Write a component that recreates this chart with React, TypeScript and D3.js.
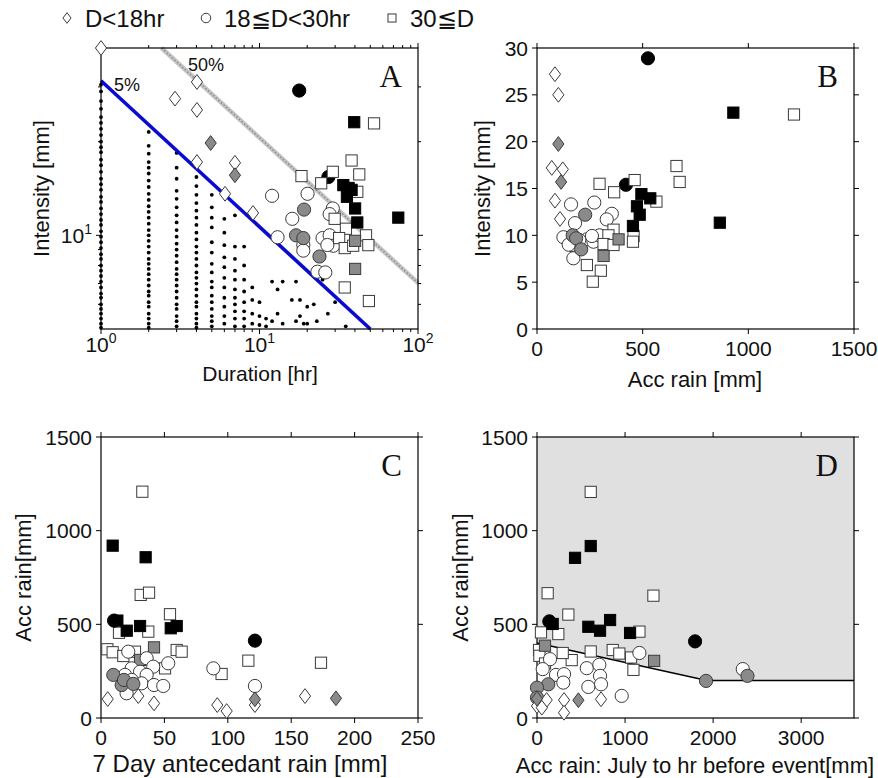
import React from 'react';
import * as d3 from 'd3';

const SANS = '"Liberation Sans", Arial, sans-serif';
const SERIF = '"Liberation Serif", "Times New Roman", serif';

type Pt = [number, number, string];

const LEGEND = [
  { code: 'dw', label: 'D<18hr', x: 67 },
  { code: 'cw', label: '18≦D<30hr', x: 206 },
  { code: 'sw', label: '30≦D', x: 392 },
];

// background events in A: [duration, intensities]
const A_DOTS: [number, number[]][] = [
  [1, [30.5, 29, 27, 25.5, 24, 23, 22, 21, 20, 19.2, 18.5, 17.5, 16.8, 16, 15.2, 14.6, 14, 13.3, 12.8, 12.2, 11.7, 11.2, 10.8, 10.3, 9.9, 9.5, 9.1, 8.7, 8.4, 8.0, 7.7, 7.4, 7.1, 6.8, 6.5, 6.3, 6.0, 5.8, 5.6, 5.4, 5.2, 5.05]],
  [2, [21.5, 19.4, 18.3, 17.2, 16.5, 15.8, 15, 14.3, 13.6, 13, 12.4, 11.9, 11.4, 10.9, 10.4, 10, 9.6, 9.2, 8.8, 8.4, 8.1, 7.8, 7.5, 7.2, 6.9, 6.6, 6.4, 6.1, 5.9, 5.6, 5.4, 5.2, 5.05]],
  [3, [18.4, 16.5, 15.2, 13.9, 13.1, 12.3, 11.6, 11, 10.4, 9.9, 9.4, 9.0, 8.6, 8.2, 7.8, 7.5, 7.2, 6.9, 6.6, 6.3, 6.0, 5.8, 5.5, 5.3, 5.1]],
  [4, [15.4, 14.4, 13.5, 12.7, 12, 11.4, 10.8, 10.2, 9.7, 9.2, 8.8, 8.4, 8.0, 7.6, 7.3, 7.0, 6.7, 6.4, 6.1, 5.9, 5.6, 5.4, 5.2, 5.05]],
  [5, [13.5, 12.3, 11.4, 10.6, 9.5, 8.8, 8.1, 7.6, 7.1, 6.8, 6.4, 6.1, 5.8, 5.5, 5.3, 5.1]],
  [6, [11.3, 10.2, 9.3, 8.5, 7.9, 7.3, 6.8, 6.3, 5.9, 5.5, 5.2]],
  [7, [11.6, 9.2, 8.4, 7.7, 7.2, 6.7, 6.3, 6.0, 5.7, 5.4, 5.1]],
  [8, [9.2, 8.0, 7.2, 6.6, 6.1, 5.7, 5.4, 5.1]],
  [9, [6.8, 6.2, 5.6, 5.2]],
  [10, [6.1, 5.5, 5.15]],
  [11, [5.4, 5.1]],
  [12, [7.1, 5.3]],
  [13, [6.7, 5.6]],
  [14, [7.1, 5.2]],
  [16, [6.2]],
  [17, [7.1, 5.3]],
  [18, [6.2, 5.5]],
  [19, [5.2]],
  [20, [5.9, 5.2]],
  [22, [6.0]],
  [23, [7.3, 5.3]],
  [25, [7.2]],
  [27, [5.6]],
  [30, [6.1]],
  [35, [5.1]],
];

// [duration, intensity, shape+fill]
const A_EVENTS: Pt[] = [
  [1, 40, 'dw'], [2.93, 27.5, 'dw'], [4.03, 31.1, 'dw'], [4.03, 25.3, 'dw'], [4.92, 19.8, 'dg'],
  [4.03, 17.2, 'dw'], [7.0, 17.1, 'dw'], [7.0, 15.6, 'dg'], [6.06, 13.6, 'dw'], [9.1, 11.8, 'dw'],
  [12.0, 13.4, 'cw'], [20.1, 13.6, 'cw'], [16.1, 11.3, 'cw'], [29.0, 12.2, 'cw'], [27.7, 11.7, 'cw'],
  [13.0, 9.86, 'cw'], [18.9, 9.31, 'cw'], [18.9, 8.93, 'cw'], [25.0, 9.8, 'cw'], [27.7, 10.0, 'cw'],
  [29.2, 9.26, 'cw'], [26.8, 9.31, 'cw'], [23.2, 7.64, 'cw'], [26.0, 7.6, 'cw'],
  [19.1, 12.1, 'cg'], [17.0, 10.0, 'cg'], [18.9, 9.8, 'cg'], [23.9, 8.55, 'cg'],
  [17.8, 29.2, 'ck'], [27.2, 15.4, 'ck'],
  [18.4, 15.5, 'sw'], [24.5, 14.7, 'sw'], [29.0, 16.0, 'sw'], [38.1, 17.4, 'sw'], [42.6, 15.7, 'sw'],
  [41.4, 13.8, 'sw'], [29.8, 11.3, 'sw'], [35.1, 10.5, 'sw'], [31.8, 9.8, 'sw'], [47.0, 10.0, 'sw'],
  [48.6, 9.3, 'sw'], [34.5, 9.1, 'sw'], [39.0, 9.26, 'sw'], [34.5, 6.8, 'sw'], [49.0, 6.15, 'sw'],
  [52.8, 22.9, 'sw'], [40.1, 9.6, 'sg'], [40.1, 7.8, 'sg'],
  [39.6, 23.1, 'sk'], [75.1, 11.4, 'sk'], [33.8, 14.5, 'sk'], [38.1, 14.0, 'sk'], [35.6, 13.3, 'sk'],
  [40.1, 12.2, 'sk'], [41.4, 11.0, 'sk'], [36.5, 14.2, 'sk'],
];

const A_LINE_5: [number, number][] = [[1, 31.4], [50, 5]];
const A_LINE_50: [number, number][] = [[2.41, 40], [100, 7.03]];

// [acc rain, intensity, shape+fill]
const B_EVENTS: Pt[] = [
  [85, 27.2, 'dw'], [101, 25.0, 'dw'], [101, 19.75, 'dg'], [70, 17.2, 'dw'], [122, 17.05, 'dw'],
  [114, 15.7, 'dg'], [85, 13.7, 'dw'], [109, 11.75, 'dw'],
  [161, 13.3, 'cw'], [271, 13.5, 'cw'], [180, 11.3, 'cw'], [354, 12.3, 'cw'], [330, 11.7, 'cw'],
  [125, 9.8, 'cw'], [165, 8.97, 'cw'], [172, 7.55, 'cw'], [236, 9.57, 'cw'], [267, 9.32, 'cw'],
  [296, 10.0, 'cw'], [260, 9.93, 'cw'], [200, 9.5, 'cw'], [150, 9.0, 'cw'],
  [228, 12.2, 'cg'], [169, 10.0, 'cg'], [185, 9.68, 'cg'], [209, 8.5, 'cg'],
  [525, 28.9, 'ck'], [421, 15.4, 'ck'],
  [296, 15.5, 'sw'], [365, 14.6, 'sw'], [462, 15.9, 'sw'], [565, 13.6, 'sw'], [660, 17.4, 'sw'],
  [675, 15.7, 'sw'], [1216, 22.9, 'sw'], [362, 10.6, 'sw'], [338, 10.0, 'sw'], [315, 9.07, 'sw'],
  [457, 9.93, 'sw'], [454, 9.32, 'sw'], [236, 6.83, 'sw'], [302, 6.22, 'sw'], [264, 5.05, 'sw'],
  [362, 8.97, 'sw'], [386, 9.57, 'sg'], [315, 7.8, 'sg'],
  [494, 14.4, 'sk'], [536, 13.95, 'sk'], [473, 13.1, 'sk'], [486, 12.2, 'sk'], [454, 11.0, 'sk'],
  [929, 23.1, 'sk'], [865, 11.35, 'sk'],
];

// [7 day antecedent rain, acc rain, shape+fill]
const C_EVENTS: Pt[] = [
  [32.6, 1208, 'sw'], [31.3, 657, 'sw'], [37.9, 669, 'sw'], [54.4, 554, 'sw'], [14.2, 455, 'sw'],
  [37.3, 461, 'sw'], [5.0, 367, 'sw'], [9.2, 351, 'sw'], [59.7, 363, 'sw'], [63.6, 354, 'sw'],
  [26.8, 354, 'sw'], [17.6, 331, 'sw'], [33.9, 292, 'sw'], [50.5, 265, 'sw'], [95.1, 235, 'sw'],
  [116.2, 306, 'sw'], [173.5, 295, 'sw'],
  [41.8, 377, 'sg'], [30.8, 310, 'sg'],
  [21.5, 354, 'cw'], [36, 319, 'cw'], [53, 292, 'cw'], [88.6, 265, 'cw'], [121.4, 171, 'cw'],
  [24.2, 265, 'cw'], [18.9, 230, 'cw'], [30.8, 247, 'cw'], [41.2, 274, 'cw'], [36, 230, 'cw'],
  [32, 185, 'cw'], [41.8, 176, 'cw'], [49.1, 171, 'cw'], [20.2, 132, 'cw'], [24.2, 203, 'cw'],
  [9.7, 230, 'cg'], [16.3, 176, 'cg'], [18.1, 203, 'cg'], [25.5, 182, 'cg'],
  [5.3, 101, 'dw'], [29.4, 117, 'dw'], [41.8, 78, 'dw'], [91.7, 69, 'dw'], [99.1, 37, 'dw'],
  [160.9, 117, 'dw'], [121.4, 69, 'dw'], [121.4, 100, 'dg'], [185.3, 105, 'dg'],
  [9.2, 920, 'sk'], [35.2, 858, 'sk'], [10.3, 520, 'ck'], [12.9, 520, 'sk'], [20.3, 466, 'sk'],
  [30.8, 491, 'sk'], [55, 479, 'sk'], [59.7, 491, 'sk'], [121.4, 413, 'ck'],
];

// [acc rain July to event, acc rain, shape+fill]
const D_EVENTS: Pt[] = [
  [610, 1207, 'sw'], [121, 666, 'sw'], [1322, 653, 'sw'], [356, 552, 'sw'], [45, 457, 'sw'],
  [242, 448, 'sw'], [1163, 461, 'sw'], [860, 363, 'sw'], [935, 344, 'sw'], [610, 355, 'sw'],
  [1068, 323, 'sw'], [1095, 257, 'sw'], [394, 309, 'sw'], [292, 347, 'sw'], [23, 363, 'sw'],
  [27, 332, 'sw'], [91, 291, 'sw'],
  [1330, 305, 'sg'], [91, 386, 'sg'],
  [1163, 347, 'cw'], [148, 314, 'cw'], [65, 261, 'cw'], [216, 230, 'cw'], [307, 234, 'cw'],
  [299, 189, 'cw'], [565, 266, 'cw'], [708, 284, 'cw'], [716, 225, 'cw'], [727, 180, 'cw'],
  [583, 166, 'cw'], [962, 118, 'cw'], [2337, 261, 'cw'],
  [2390, 225, 'cg'], [1920, 198, 'cg'], [128, 180, 'cg'], [0, 162, 'cg'], [0, 109, 'cg'],
  [110, 96, 'dw'], [307, 96, 'dw'], [307, 28, 'dw'], [727, 100, 'dw'], [0, 64, 'dw'], [55, 55, 'dw'],
  [470, 95, 'dg'], [0, 103, 'dg'],
  [610, 918, 'sk'], [432, 855, 'sk'], [178, 502, 'sk'], [583, 487, 'sk'], [716, 466, 'sk'],
  [830, 523, 'sk'], [1057, 454, 'sk'], [140, 516, 'ck'], [1795, 409, 'ck'],
];

const D_THRESHOLD: [number, number][] = [[0, 400], [1930, 200], [3600, 200]];

const B_X_TICKS = [0, 500, 1000, 1500];
const B_Y_TICKS = [0, 5, 10, 15, 20, 25, 30];
const C_X_TICKS = [0, 50, 100, 150, 200, 250];
const ACC_TICKS = [0, 500, 1000, 1500];
const D_X_TICKS = [0, 1000, 2000, 3000];

const FILL: Record<string, string> = { w: '#ffffff', g: '#8a8a8a', k: '#000000' };

function Marker({ cx, cy, code, small }: { cx: number; cy: number; code: string; small?: boolean }) {
  const k = small ? 0.72 : 1;
  const fill = FILL[code[1]];
  const stroke = code[1] === 'k' ? '#000' : '#3a3a3a';
  const sw = 1;
  if (code[0] === 'c') return <circle cx={cx} cy={cy} r={6.6 * k} fill={fill} stroke={stroke} strokeWidth={sw} />;
  if (code[0] === 's') {
    const h = 5.6 * k;
    return <rect x={cx - h} y={cy - h} width={2 * h} height={2 * h} fill={fill} stroke={stroke} strokeWidth={sw} />;
  }
  const w = 5.6 * k, h = 7.4 * k;
  return <path d={`M${cx},${cy - h}L${cx + w},${cy}L${cx},${cy + h}L${cx - w},${cy}Z`} fill={fill} stroke={stroke} strokeWidth={sw} />;
}

type Box = { x0: number; x1: number; y0: number; y1: number };

function Frame({ box, xs, ys, xMajor, yMajor, xMinor = [], yMinor = [], xLabel, yLabel, xLabelGap = 27 }: any) {
  const { x0, x1, y0, y1 } = box as Box;
  const maj = 5, min = 3;
  return (
    <g>
      <rect x={x0} y={y0} width={x1 - x0} height={y1 - y0} fill="none" stroke="#000" strokeWidth={1.2} />
      {xMajor.map((t: number) => (
        <g key={'xm' + t}>
          <line x1={xs(t)} x2={xs(t)} y1={y1} y2={y1 + maj} stroke="#000" />
          <line x1={xs(t)} x2={xs(t)} y1={y0} y2={y0 - maj} stroke="#000" />
        </g>
      ))}
      {xMinor.map((t: number) => (
        <g key={'xn' + t}>
          <line x1={xs(t)} x2={xs(t)} y1={y1} y2={y1 + min} stroke="#000" />
          <line x1={xs(t)} x2={xs(t)} y1={y0} y2={y0 - min} stroke="#000" />
        </g>
      ))}
      {yMajor.map((t: number) => (
        <g key={'ym' + t}>
          <line x1={x0} x2={x0 - maj} y1={ys(t)} y2={ys(t)} stroke="#000" />
          <line x1={x1} x2={x1 + maj} y1={ys(t)} y2={ys(t)} stroke="#000" />
        </g>
      ))}
      {yMinor.map((t: number) => (
        <g key={'yn' + t}>
          <line x1={x0} x2={x0 - min} y1={ys(t)} y2={ys(t)} stroke="#000" />
          <line x1={x1} x2={x1 + min} y1={ys(t)} y2={ys(t)} stroke="#000" />
        </g>
      ))}
      <g fontFamily={SANS} fontSize={21} fill="#111">
        {xMajor.map((t: number) => (
          <text key={'xl' + t} x={xs(t)} y={y1 + xLabelGap} textAnchor="middle">{xLabel(t)}</text>
        ))}
        {yMajor.map((t: number) => (
          <text key={'yl' + t} x={x0 - 9} y={ys(t)} dy="0.36em" textAnchor="end">{yLabel(t)}</text>
        ))}
      </g>
    </g>
  );
}

const pow10 = (t: number) => (
  <>
    <tspan>10</tspan>
    <tspan dy={-9} fontSize={14}>{Math.round(Math.log10(t))}</tspan>
  </>
);

const A_BOX: Box = { x0: 101, x1: 418, y0: 48, y1: 329 };
const B_BOX: Box = { x0: 537, x1: 854, y0: 48, y1: 329 };
const C_BOX: Box = { x0: 101, x1: 418, y0: 437, y1: 718 };
const D_BOX: Box = { x0: 537, x1: 854, y0: 437, y1: 718 };

function PanelLetter({ box, letter }: { box: Box; letter: string }) {
  return (
    <text x={box.x1 - 16} y={box.y0 + 39} textAnchor="end" fontFamily={SERIF} fontSize={31} fill="#111">
      {letter}
    </text>
  );
}

function YTitle({ x, box, text }: { x: number; box: Box; text: string }) {
  const cy = (box.y0 + box.y1) / 2;
  return (
    <text transform={`translate(${x},${cy}) rotate(-90)`} dy="0.36em" textAnchor="middle" fontFamily={SANS} fontSize={22} fill="#111">
      {text}
    </text>
  );
}

export default function App() {
  // Panel A
  const ax = d3.scaleLog().domain([1, 100]).range([A_BOX.x0, A_BOX.x1]);
  const ay = d3.scaleLog().domain([5, 40]).range([A_BOX.y1, A_BOX.y0]);
  const aLine = d3.line<[number, number]>().x((d) => ax(d[0])).y((d) => ay(d[1]));
  const aXMinor = [2, 3, 4, 5, 6, 7, 8, 9, 20, 30, 40, 50, 60, 70, 80, 90];
  const aYMinor = [6, 7, 8, 9, 20, 30];

  // Panel B
  const bx = d3.scaleLinear().domain([0, 1500]).range([B_BOX.x0, B_BOX.x1]);
  const by = d3.scaleLinear().domain([0, 30]).range([B_BOX.y1, B_BOX.y0]);

  // Panel C
  const cx = d3.scaleLinear().domain([0, 250]).range([C_BOX.x0, C_BOX.x1]);
  const cy = d3.scaleLinear().domain([0, 1500]).range([C_BOX.y1, C_BOX.y0]);

  // Panel D
  const dx = d3.scaleLinear().domain([0, 3600]).range([D_BOX.x0, D_BOX.x1]);
  const dy = d3.scaleLinear().domain([0, 1500]).range([D_BOX.y1, D_BOX.y0]);
  const dLine = d3.line<[number, number]>().x((d) => dx(d[0])).y((d) => dy(d[1]));
  const shade: [number, number][] = [...D_THRESHOLD, [3600, 1500], [0, 1500]];

  return (
    <svg width={878} height={778} style={{ position: 'absolute', left: 0, top: 0, background: '#fff' }}>
      <rect width={878} height={778} fill="#fff" />

      {/* legend */}
      <g fontFamily={SANS} fontSize={24} fill="#111">
        {LEGEND.map((l) => (
          <g key={l.code}>
            <Marker cx={l.x} cy={18} code={l.code} small />
            <text x={l.x + 18} y={27}>{l.label}</text>
          </g>
        ))}
      </g>

      {/* A */}
      <g>
        {A_DOTS.map(([d, vals]) =>
          vals.map((v, i) => <circle key={d + '-' + i} cx={ax(d)} cy={ay(v)} r={1.9} fill="#000" />)
        )}
        <path d={aLine(A_LINE_50) || ''} stroke="#c4c4c4" strokeWidth={4.5} fill="none" />
        <path d={aLine(A_LINE_50) || ''} stroke="#888" strokeWidth={1.4} strokeDasharray="1.5 2" fill="none" />
        <path d={aLine(A_LINE_5) || ''} stroke="#0a0ad0" strokeWidth={3.6} fill="none" />
        <text x={114} y={91} fontFamily={SANS} fontSize={18} fill="#111">5%</text>
        <text x={188} y={71} fontFamily={SANS} fontSize={18} fill="#111">50%</text>
        <Frame box={A_BOX} xs={ax} ys={ay} xMajor={[1, 10, 100]} yMajor={[10]} xMinor={aXMinor} yMinor={aYMinor} xLabel={pow10} yLabel={pow10} xLabelGap={23} />
        {A_EVENTS.map((p, i) => <Marker key={i} cx={ax(p[0])} cy={ay(p[1])} code={p[2]} />)}
        <PanelLetter box={A_BOX} letter="A" />
        <YTitle x={41} box={A_BOX} text="Intensity [mm]" />
        <text x={260} y={381} textAnchor="middle" fontFamily={SANS} fontSize={21} fill="#111">Duration [hr]</text>
      </g>

      {/* B */}
      <g>
        <Frame box={B_BOX} xs={bx} ys={by} xMajor={B_X_TICKS} yMajor={B_Y_TICKS} xLabel={(t: number) => t} yLabel={(t: number) => t} />
        {B_EVENTS.map((p, i) => <Marker key={i} cx={bx(p[0])} cy={by(p[1])} code={p[2]} />)}
        <PanelLetter box={B_BOX} letter="B" />
        <YTitle x={482} box={B_BOX} text="Intensity [mm]" />
        <text x={695} y={387} textAnchor="middle" fontFamily={SANS} fontSize={22} fill="#111">Acc rain [mm]</text>
      </g>

      {/* C */}
      <g>
        <Frame box={C_BOX} xs={cx} ys={cy} xMajor={C_X_TICKS} yMajor={ACC_TICKS} xLabel={(t: number) => t} yLabel={(t: number) => t} />
        {C_EVENTS.map((p, i) => <Marker key={i} cx={cx(p[0])} cy={cy(p[1])} code={p[2]} />)}
        <PanelLetter box={C_BOX} letter="C" />
        <YTitle x={23} box={C_BOX} text="Acc rain[mm]" />
        <text x={240} y={772} textAnchor="middle" fontFamily={SANS} fontSize={24} fill="#111">7 Day antecedant rain [mm]</text>
      </g>

      {/* D */}
      <g>
        <path d={(dLine(shade) || '') + 'Z'} fill="#e0e0e0" stroke="none" />
        <path d={dLine(D_THRESHOLD) || ''} fill="none" stroke="#000" strokeWidth={1.5} />
        <Frame box={D_BOX} xs={dx} ys={dy} xMajor={D_X_TICKS} yMajor={ACC_TICKS} xLabel={(t: number) => t} yLabel={(t: number) => t} />
        {D_EVENTS.map((p, i) => <Marker key={i} cx={dx(p[0])} cy={dy(p[1])} code={p[2]} />)}
        <PanelLetter box={D_BOX} letter="D" />
        <YTitle x={460} box={D_BOX} text="Acc rain[mm]" />
        <text x={695} y={773} textAnchor="middle" fontFamily={SANS} fontSize={22} fill="#111">Acc rain: July to hr before event[mm]</text>
      </g>
    </svg>
  );
}
